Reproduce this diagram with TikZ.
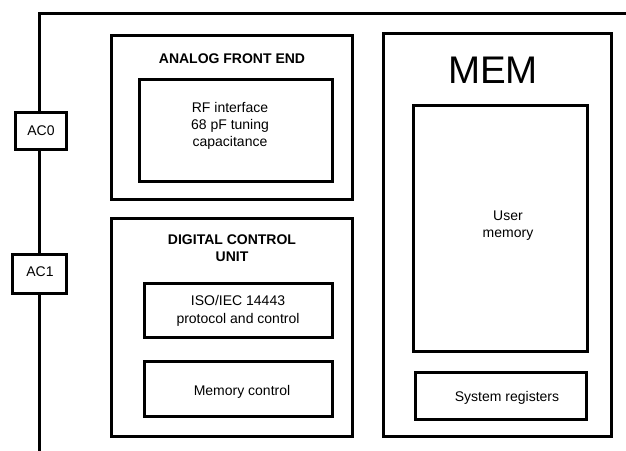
\documentclass[tikz,border=0pt]{standalone}
\usepackage{fontspec}
\setmainfont{Liberation Sans}
\begin{document}
\begin{tikzpicture}[x=1pt,y=-1pt,
  box/.style={draw=black,line width=3pt,fill=white,rectangle,inner sep=0pt},
  lbl/.style={align=center,inner sep=0pt,font=\fontsize{14}{17.3}\selectfont},
  blbl/.style={align=center,inner sep=0pt,font=\fontsize{14}{17.3}\selectfont\bfseries},
  wire/.style={line width=3pt}]
\useasboundingbox (0,0) rectangle (626,450);
% outer bus line
\coordinate (bot) at (39,451);
\coordinate (corner) at (39,13.5);
\coordinate (rend) at (627,13.5);
\node[box,minimum width=51pt,minimum height=37pt] (ac0) at (41,131) {};
\node[box,minimum width=54pt,minimum height=39pt] (ac1) at (39.5,274) {};
\draw[wire] (bot) -- (ac1.south -| bot);
\draw[wire] (ac1.north -| bot) -- (ac0.south -| bot);
\draw[wire] (ac0.north -| bot) -- (corner) -- (rend);
\node[lbl] (ac0t) at (ac0.center) {AC0};
\node[lbl] (ac1t) at (40,272) {AC1};
% analog front end
\node[box,minimum width=241pt,minimum height=164pt] (afe) at (232,117.5) {};
\node[blbl] (afet) at (232,59) {ANALOG FRONT END};
\node[box,minimum width=193pt,minimum height=102pt] (rf) at (236,130.5) {};
\node[lbl] (rft) at (230,126) {RF interface\\68 pF tuning\\capacitance};
% digital control unit
\node[box,minimum width=241pt,minimum height=218pt] (dcu) at (232,327.5) {};
\node[blbl] (dcut) at (232,248) {DIGITAL CONTROL\\UNIT};
\node[box,minimum width=188pt,minimum height=54pt] (iso) at (238.5,310.5) {};
\node[lbl] (isot) at (238,311) {ISO/IEC 14443\\protocol and control};
\node[box,minimum width=188pt,minimum height=55pt] (mc) at (238.5,389) {};
\node[lbl] (mct) at (242,392) {Memory control};
% memory
\node[box,minimum width=228pt,minimum height=403pt] (mem) at (497.5,235) {};
\node[inner sep=0pt,font=\fontsize{38.5}{40}\selectfont] (memt) at (493,70) {MEM};
\node[box,minimum width=174pt,minimum height=246pt] (um) at (500.5,228.5) {};
\node[lbl] (umt) at (508,225.5) {User\\memory};
\node[box,minimum width=171pt,minimum height=47pt] (sr) at (501,396) {};
\node[lbl] (srt) at (507,398) {System registers};
\end{tikzpicture}
\end{document}
